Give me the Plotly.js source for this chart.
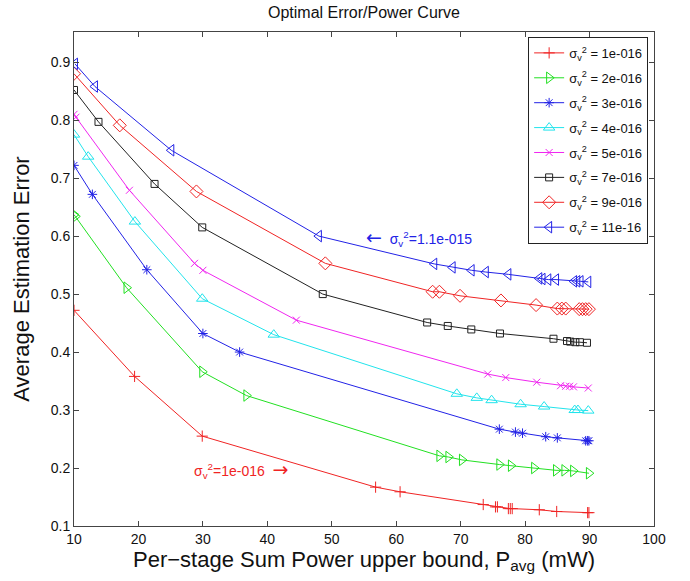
<!DOCTYPE html>
<html>
<head>
<meta charset="utf-8">
<script src="https://cdn.plot.ly/plotly-3.0.1.min.js"></script>
<style>html,body{margin:0;padding:0;background:#fff;}#chart{width:690px;height:581px;}</style>
</head>
<body>
<div id="chart"></div>
<script>
// Series data
const legendNames = ["1e-016", "2e-016", "3e-016", "4e-016", "5e-016", "7e-016", "9e-016", "11e-16"];

const x1 = [10, 19.4, 29.9, 56.8, 60.6, 73.5, 75.4, 75.7, 77.4, 77.7, 78.0, 82.2, 84.9, 89.7, 89.9];
const y1 = [0.472, 0.358, 0.255, 0.167, 0.159, 0.137, 0.133, 0.133, 0.130, 0.130, 0.130, 0.128, 0.125, 0.123, 0.123];

const x2 = [10, 10.2, 18.15, 29.9, 36.75, 66.7, 68.1, 70.2, 76.0, 77.8, 81.4, 84.8, 86.1, 87.45, 89.9];
const y2 = [0.637, 0.634, 0.511, 0.366, 0.325, 0.221, 0.219, 0.214, 0.206, 0.204, 0.200, 0.196, 0.196, 0.195, 0.191];

const x3 = [10, 12.85, 21.3, 30.0, 35.7, 76.0, 78.5, 79.6, 83.2, 85.0, 89.4, 89.7, 89.9];
const y3 = [0.722, 0.672, 0.542, 0.432, 0.400, 0.267, 0.262, 0.260, 0.254, 0.252, 0.247, 0.247, 0.247];

const x4 = [10, 12.2, 19.45, 29.9, 41.0, 69.4, 72.5, 74.8, 79.3, 82.95, 87.7, 88.2, 89.8];
const y4 = [0.775, 0.737, 0.625, 0.492, 0.430, 0.328, 0.321, 0.317, 0.310, 0.306, 0.300, 0.300, 0.299];

const x5 = [10, 10.3, 18.6, 28.7, 30.0, 44.5, 74.2, 77.0, 81.8, 85.5, 86.3, 86.9, 87.5, 89.8];
const y5 = [0.810, 0.805, 0.679, 0.553, 0.541, 0.455, 0.362, 0.356, 0.348, 0.342, 0.341, 0.341, 0.340, 0.338];

const x7 = [10, 13.8, 22.5, 29.9, 48.6, 64.8, 68.0, 71.65, 76.1, 84.4, 86.5, 87.0, 87.8, 88.5, 89.6];
const y7 = [0.852, 0.797, 0.690, 0.615, 0.500, 0.451, 0.445, 0.439, 0.432, 0.423, 0.419, 0.418, 0.417, 0.417, 0.416];

const x9 = [10, 17.1, 29.0, 49.0, 65.65, 66.7, 69.9, 76.25, 81.7, 85.0, 85.7, 86.3, 88.4, 88.9, 89.4, 89.9];
const y9 = [0.880, 0.791, 0.677, 0.553, 0.504, 0.504, 0.497, 0.489, 0.481, 0.475, 0.475, 0.475, 0.474, 0.474, 0.474, 0.474];

const x11 = [10.15, 13.25, 25.1, 48.0, 65.9, 68.75, 71.7, 73.9, 77.4, 82.2, 82.7, 83.6, 84.8, 87.6, 88.1, 88.6, 89.8];
const y11 = [0.897, 0.858, 0.748, 0.600, 0.552, 0.546, 0.541, 0.538, 0.534, 0.527, 0.526, 0.525, 0.525, 0.522, 0.522, 0.522, 0.521];

const xTicks = [10, 20, 30, 40, 50, 60, 70, 80, 90, 100];
const yTicks = [0.1, 0.2, 0.3, 0.4, 0.5, 0.6, 0.7, 0.8, 0.9];

const xs = [x1, x2, x3, x4, x5, x7, x9, x11];
const ys = [y1, y2, y3, y4, y5, y7, y9, y11];
const colors = ["#f02424", "#22e022", "#2222e6", "#22e4ec", "#f026f0", "#222222", "#f02424", "#2222e6"];
const symbols = ["cross-thin-open", "triangle-right-open", "asterisk-open", "triangle-up-open",
                 "x-thin-open", "square-open", "diamond-open", "triangle-left-open"];
const sizes = [8, 10, 8, 10, 7, 7, 10, 10];

const traces = xs.map((xv, i) => ({
  x: xv, y: ys[i], type: "scatter", mode: "lines+markers",
  name: "σ<sub>v</sub><sup>2</sup> = " + legendNames[i],
  legendgroup: "g" + i,
  line: {color: colors[i], width: 1},
  marker: {symbol: symbols[i], size: sizes[i], color: colors[i], line: {color: colors[i], width: 1}}
}));

const fontFam = "Liberation Sans, Arial, Helvetica, sans-serif";
const arrowSpan = s => "<span style='font-family:DejaVu Sans;font-size:19px'>" + s + "</span>";
const layout = {
  width: 690, height: 581,
  margin: {l: 74, r: 36, t: 32, b: 55},
  paper_bgcolor: "#fff", plot_bgcolor: "#fff",
  font: {family: fontFam, color: "#222"},
  title: {text: "Optimal Error/Power Curve", font: {size: 16, family: fontFam, color: "#111"},
          x: 0.5, xref: "paper", y: 0.979, yref: "container", yanchor: "middle"},
  xaxis: {
    range: [10, 100], tickvals: xTicks, ticktext: xTicks.map(String),
    ticks: "inside", ticklen: 5, tickcolor: "#444", showline: true, linecolor: "#444", linewidth: 1,
    mirror: "ticks", showgrid: false, zeroline: false,
    tickfont: {size: 14, family: fontFam, color: "#111"},
    title: {text: "Per−stage Sum Power upper bound, P<sub>avg</sub> (mW)", font: {size: 22, family: fontFam, color: "#111"}, standoff: 2}
  },
  yaxis: {
    range: [0.1, 0.952], tickvals: yTicks, ticktext: yTicks.map(v => v.toFixed(1)),
    ticks: "inside", ticklen: 5, tickcolor: "#444", showline: true, linecolor: "#444", linewidth: 1,
    mirror: "ticks", showgrid: false, zeroline: false,
    tickfont: {size: 14, family: fontFam, color: "#111"},
    title: {text: "Average Estimation Error", font: {size: 22, family: fontFam, color: "#111"}, standoff: 15}
  },
  legend: {
    x: 0.783, y: 0.99, xanchor: "left", yanchor: "top",
    bgcolor: "#fff", bordercolor: "#222", borderwidth: 1,
    font: {size: 13, family: fontFam, color: "#111"},
    tracegroupgap: 5, itemwidth: 30
  },
  annotations: [
    {x: 63.5, y: 0.598, xref: "x", yref: "y", showarrow: false,
     text: arrowSpan("←") + "  σ<sub>v</sub><sup>2</sup>=1.1e-015", font: {size: 14, family: fontFam, color: "#2222e6"}},
    {x: 35.9, y: 0.197, xref: "x", yref: "y", showarrow: false,
     text: "σ<sub>v</sub><sup>2</sup>=1e-016  " + arrowSpan("→"), font: {size: 14, family: fontFam, color: "#f02424"}}
  ]
};

Plotly.newPlot("chart", traces, layout, {displayModeBar: false, staticPlot: true});
</script>
</body>
</html>
